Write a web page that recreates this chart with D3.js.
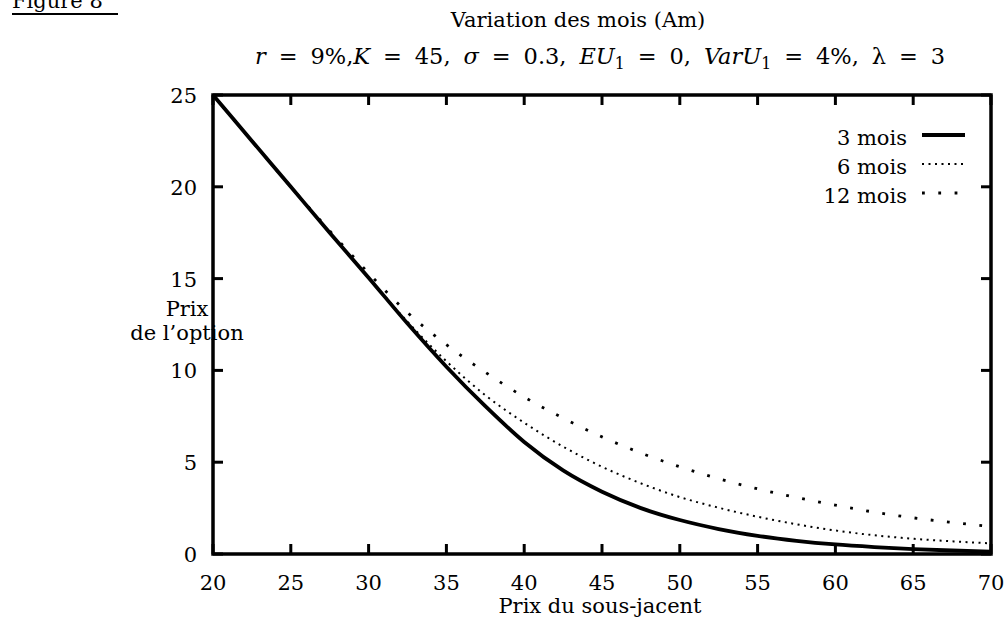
<!DOCTYPE html>
<html><head><meta charset="utf-8">
<script src="https://cdn.jsdelivr.net/npm/d3@7"></script>
<style>
body{margin:0;background:#fff;}
text{font-family:"DejaVu Serif",serif;fill:#000;}
</style></head>
<body><svg id="c" width="1008" height="626"></svg>
<script>
const prix = [20,22.5,25,27.5,30,32.5,35,37.5,40,42.5,45,47.5,50,52.5,55,57.5,60,62.5,65,67.5,70];
const mois3  = [25,22.5,20,17.5,15.05,12.55,10.2,8.05,6.1,4.55,3.39,2.5,1.85,1.36,0.99,0.72,0.52,0.38,0.27,0.19,0.13];
const mois6  = [25,22.5,20,17.5,15.05,12.65,10.5,8.65,7.15,5.85,4.75,3.85,3.1,2.52,2.03,1.62,1.28,1.02,0.83,0.69,0.58];
const mois12 = [25,22.5,20,17.6,15.3,13.15,11.4,9.9,8.55,7.4,6.38,5.5,4.75,4.1,3.55,3.08,2.66,2.28,1.97,1.72,1.5];
const seriesNames = ["3 mois","6 mois","12 mois"];
const xTicks = [20,25,30,35,40,45,50,55,60,65,70];
const yTicks = [0,5,10,15,20,25];

const svg = d3.select("#c");
const L=213, R=991, T=95, B=554;
const x = d3.scaleLinear().domain([20,70]).range([L,R]);
const y = d3.scaleLinear().domain([0,25]).range([B,T]);
const FS = 21;

// Figure label
svg.append("text").attr("x",12).attr("y",8).attr("font-size",FS).text("Figure 8");
svg.append("line").attr("x1",12).attr("x2",118).attr("y1",14).attr("y2",14).attr("stroke","#000").attr("stroke-width",2);

// Titles
svg.append("text").attr("x",578).attr("y",27).attr("text-anchor","middle").attr("font-size",FS).text("Variation des mois (Am)");

// Second title line laid out token by token (TeX-like math spacing)
const FS2 = 22.5;
const tokens = [
 ["r","i"],["=","g"],["9%,","n"],["K","i"],["=","g"],["45,","n"],["σ","i"],["=","g"],["0.3,","n"],
 ["EU","i"],["1","s"],["=","g"],["0,","n"],["VarU","i"],["1","s"],["=","g"],["4%,","n"],["λ","n"],["=","g"],["3","n"]
];
const lineG = svg.append("g");
const els = tokens.map(([s,k])=>{
  const t = lineG.append("text").attr("font-size", k==="s"?FS2*0.7:FS2).attr("y", k==="s"?69:64).text(s);
  if(k==="i") t.attr("font-style","italic");
  return t;
});
const widths = els.map(e=>e.node().getComputedTextLength());
const gapBefore = tokens.map(([s,k],i)=>{
  if(i===0) return 0;
  if(k==="g") return 1;
  if(tokens[i-1][1]==="g") return 1;
  if(tokens[i-1][0].endsWith(",") && tokens[i-1][0]!=="9%,") return 1;
  return 0;
});
const totalW = 690, x0 = 255;
const nG = d3.sum(gapBefore), gap = (totalW - d3.sum(widths))/nG;
let cx = x0;
els.forEach((e,i)=>{ cx += gapBefore[i]*gap; e.attr("x",cx); cx += widths[i]; });

// Curves
const sets = [mois3,mois6,mois12];
const styles = [
  {w:3.8, dash:null},
  {w:2, dash:"2,4.5"},
  {w:2.8, dash:"2.8,13.5"}
];
const lineGen = vals => d3.line().x((d,i)=>x(prix[i])).y(d=>y(d)).curve(d3.curveMonotoneX)(vals);
sets.forEach((vals,k)=>{
  const p = svg.append("path").attr("d",lineGen(vals)).attr("fill","none")
    .attr("stroke","#000").attr("stroke-width",styles[k].w);
  if(styles[k].dash) p.attr("stroke-dasharray",styles[k].dash);
});

// Frame and ticks
const g = svg.append("g");
g.append("rect").attr("x",L).attr("y",T).attr("width",R-L).attr("height",B-T)
 .attr("fill","none").attr("stroke","#000").attr("stroke-width",3.5);
xTicks.forEach(v=>{
  g.append("line").attr("x1",x(v)).attr("x2",x(v)).attr("y1",B).attr("y2",B-10).attr("stroke","#000").attr("stroke-width",3);
  g.append("line").attr("x1",x(v)).attr("x2",x(v)).attr("y1",T).attr("y2",T+10).attr("stroke","#000").attr("stroke-width",3);
  svg.append("text").attr("x",x(v)).attr("y",590).attr("text-anchor","middle").attr("font-size",FS).text(v);
});
yTicks.forEach(v=>{
  g.append("line").attr("x1",L).attr("x2",L+10).attr("y1",y(v)).attr("y2",y(v)).attr("stroke","#000").attr("stroke-width",3);
  g.append("line").attr("x1",R).attr("x2",R-10).attr("y1",y(v)).attr("y2",y(v)).attr("stroke","#000").attr("stroke-width",3);
  svg.append("text").attr("x",197).attr("y",y(v)+8).attr("text-anchor","end").attr("font-size",FS).text(v);
});

// Axis labels
svg.append("text").attr("x",600).attr("y",613).attr("text-anchor","middle").attr("font-size",FS).text("Prix du sous-jacent");
svg.append("text").attr("x",187).attr("y",316).attr("text-anchor","middle").attr("font-size",FS).text("Prix");
svg.append("text").attr("x",187).attr("y",340).attr("text-anchor","middle").attr("font-size",FS).text("de l’option");

// Legend
const legY = [145,174,203];
seriesNames.forEach((n,k)=>{
  svg.append("text").attr("x",907).attr("y",legY[k]).attr("text-anchor","end").attr("font-size",FS).text(n);
  const ln = svg.append("line").attr("x1",922).attr("x2",965).attr("y1",legY[k]-10).attr("y2",legY[k]-10)
    .attr("stroke","#000").attr("stroke-width",styles[k].w);
  if(styles[k].dash) ln.attr("stroke-dasharray",styles[k].dash);
});
</script></body></html>
